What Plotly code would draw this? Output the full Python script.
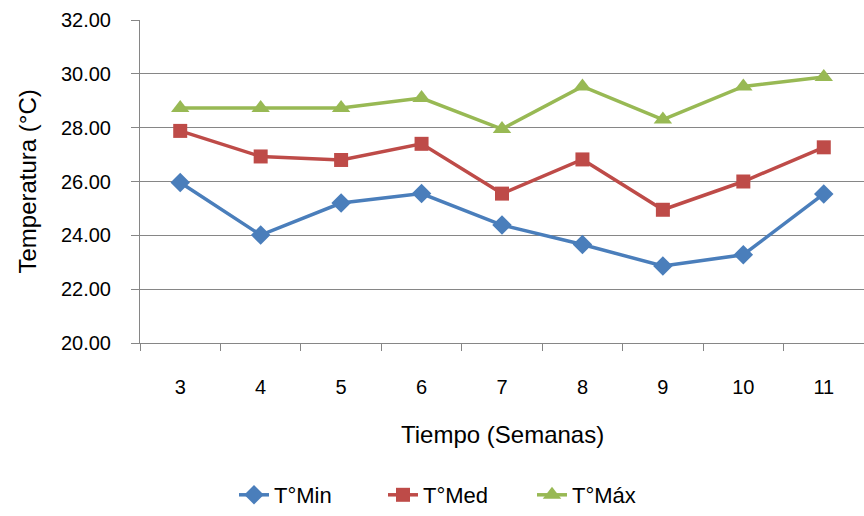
import plotly.graph_objects as go

# Weekly temperature readings
semanas = ["3", "4", "5", "6", "7", "8", "9", "10", "11"]
t_min = [25.96, 24.01, 25.20, 25.55, 24.38, 23.66, 22.86, 23.28, 25.54]
t_med = [27.88, 26.93, 26.80, 27.40, 25.55, 26.82, 24.95, 26.00, 27.27]
t_max = [28.73, 28.73, 28.73, 29.10, 27.95, 29.53, 28.30, 29.53, 29.88]

FONT = "Liberation Sans"
GRID = "#868686"

fig = go.Figure()
fig.add_trace(go.Scatter(
    x=semanas, y=t_min, name="T°Min", mode="lines+markers",
    line=dict(color="#4a7ebb", width=3.5),
    marker=dict(symbol="diamond", size=15, color="#4a7ebb"),
))
fig.add_trace(go.Scatter(
    x=semanas, y=t_med, name="T°Med", mode="lines+markers",
    line=dict(color="#be4b48", width=3.5),
    marker=dict(symbol="square", size=14, color="#be4b48"),
))
fig.add_trace(go.Scatter(
    x=semanas, y=t_max, name="T°Máx", mode="lines+markers",
    line=dict(color="#98b954", width=3.5),
    marker=dict(symbol="triangle-up", size=16, color="#98b954"),
))

fig.update_layout(
    width=864, height=516,
    margin=dict(l=140, r=0, t=20, b=172),
    paper_bgcolor="white", plot_bgcolor="white",
    font=dict(family=FONT, size=20, color="#000000"),
    showlegend=True,
    legend=dict(
        orientation="h", x=(234 - 140) / 724, y=-0.472,
        xanchor="left", yanchor="middle",
        font=dict(size=22), entrywidth=104, entrywidthmode="pixels",
        tracegroupgap=0,
    ),
    xaxis=dict(
        type="category", tickson="boundaries", ticks="outside", ticklen=7,
        tickcolor=GRID, showline=True, linecolor=GRID, linewidth=1,
        showgrid=False, tickfont=dict(size=20), range=[-0.5, 8.5],
        ticklabelstandoff=26,
    ),
    yaxis=dict(
        range=[20, 32], dtick=2, tickformat=".2f", ticks="outside", ticklen=8,
        tickcolor=GRID, showline=True, linecolor=GRID, linewidth=1,
        showgrid=True, gridcolor=GRID, gridwidth=1, zeroline=False,
        tickfont=dict(size=20), ticklabelstandoff=16,
    ),
    annotations=[
        dict(text="Tiempo (Semanas)", xref="paper", yref="paper",
             x=0.501, y=-0.284, showarrow=False, font=dict(size=24),
             xanchor="center", yanchor="middle"),
        dict(text="Temperatura (°C)", xref="paper", yref="paper",
             x=-0.156, y=0.5, showarrow=False, font=dict(size=24),
             textangle=-90, xanchor="center", yanchor="middle"),
    ],
)

fig.write_html("out.html")
